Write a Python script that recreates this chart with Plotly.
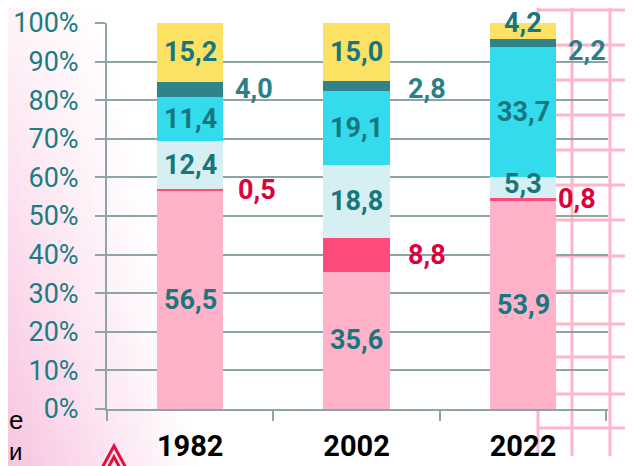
import plotly.graph_objects as go

years = ["1982", "2002", "2022"]
series_names = ["s1", "s2", "s3", "s4", "s5", "s6"]
s1 = [56.5, 35.6, 53.9]
s2 = [0.5, 8.8, 0.8]
s3 = [12.4, 18.8, 5.3]
s4 = [11.4, 19.1, 33.7]
s5 = [4.0, 2.8, 2.2]
s6 = [15.2, 15.0, 4.2]
series = [s1, s2, s3, s4, s5, s6]
colors = ["#FFB2C8", "#FF4A7C", "#D6EFF3", "#33DBEC", "#2E848A", "#FCE165"]
y_ticks = [0, 10, 20, 30, 40, 50, 60, 70, 80, 90, 100]
y_ticktext = [f"{v}%" for v in y_ticks]

# page body has an 8px margin: figure is offset by OFF in the screenshot
OFF = 8
W, H = 633 - OFF, 466 - OFF
L, R, T, B = 107 - OFF, 608 - OFF, 23 - OFF, 409 - OFF

def px(x):  # screen x -> paper
    return (x - OFF - L) / (R - L)

def py(y):  # screen y -> paper
    return (B - (y - OFF)) / (B - T)

TEAL = "#17777D"
TEAL2 = "#2A8088"
RED = "#DC003C"
LABEL_FONT = "Roboto, Arial"

fig = go.Figure()
for name, vals, col in zip(series_names, series, colors):
    fig.add_trace(go.Bar(x=years, y=vals, name=name, marker=dict(color=col, line=dict(width=0)),
                         width=0.4, showlegend=False, hoverinfo="skip"))

annotations = []
inside = {0, 2, 3, 5}
for i in range(len(years)):
    base = 0.0
    for k, vals in enumerate(series):
        v = vals[i]
        mid = base + v / 2
        base += v
        txt = f"{v:.1f}".replace(".", ",")
        if k in inside:
            yshift = 0
            if k == 5 and v < 6:
                yshift = 8
            if k == 2 and v < 6:
                yshift = 4
            annotations.append(dict(x=i, y=mid, xref="x", yref="y", text=f"<b>{txt}</b>",
                                    showarrow=False, font=dict(family=LABEL_FONT, size=27, color=TEAL),
                                    yshift=yshift))
        else:
            col = RED if k == 1 else TEAL2
            xs = 66
            ys = 0
            if k == 5 or k == 4:
                xs = 64 if i != 1 else 70
            if k == 1:
                xs = 67 if i == 0 else (70 if i == 1 else 54)
            if k == 4 and i == 2:
                ys = -8
            if k == 4 and i == 1:
                ys = -3
            annotations.append(dict(x=i, y=mid, xref="x", yref="y", text=f"<b>{txt}</b>",
                                    showarrow=False, font=dict(family=LABEL_FONT, size=27, color=col),
                                    xshift=xs, yshift=ys))

annotations.append(dict(x=px(OFF - 1), y=py(420), xref="paper", yref="paper", text="е", showarrow=False,
                        xanchor="left", yanchor="middle", font=dict(family="Arial", size=26, color="black")))
annotations.append(dict(x=px(OFF - 1), y=py(451), xref="paper", yref="paper", text="и", showarrow=False,
                        xanchor="left", yanchor="middle", font=dict(family="Arial", size=24, color="black")))

shapes = []
step_x, step_y = 6, 16
for yy in range(OFF, 466, step_y):
    t = yy / 466
    base_a = 0.12 + 0.48 * t
    xw = 110 + 90 * t
    for xx in range(OFF, int(xw), step_x):
        a = base_a * (1 - (xx + step_x / 2) / xw)
        if a <= 0.01:
            continue
        shapes.append(dict(type="rect", xref="paper", yref="paper", x0=px(xx), x1=px(xx + step_x),
                           y0=py(yy + step_y), y1=py(yy), fillcolor="rgb(243,150,200)", opacity=a,
                           line=dict(width=0), layer="below"))
PINK = "#FFB6C9"
for vx in [538, 572, 610]:
    shapes.append(dict(type="line", xref="paper", yref="paper", x0=px(vx), x1=px(vx), y0=py(OFF), y1=py(456),
                       line=dict(color=PINK, width=3), layer="below"))
for hy in [10, 45, 80, 115, 150, 185, 220, 256, 291, 324, 357, 394, 428]:
    shapes.append(dict(type="line", xref="paper", yref="paper", x0=px(538), x1=px(640), y0=py(hy), y1=py(hy),
                       line=dict(color=PINK, width=3), layer="below"))
shapes.append(dict(type="path", xref="paper", yref="paper",
                   path=f"M {px(102)},{py(468)} L {px(114)},{py(446)} L {px(126)},{py(468)}",
                   line=dict(color="#E0103C", width=3)))
shapes.append(dict(type="path", xref="paper", yref="paper",
                   path=f"M {px(108)},{py(468)} L {px(114)},{py(457)} L {px(120)},{py(468)}",
                   line=dict(color="#E0103C", width=3)))

GRID = "#8EA4A7"
fig.update_layout(
    width=W, height=H,
    margin=dict(l=L, r=W - R, t=T, b=H - B, autoexpand=False),
    barmode="stack",
    bargap=0.6,
    paper_bgcolor="white",
    plot_bgcolor="rgba(0,0,0,0)",
    annotations=annotations,
    shapes=shapes,
    showlegend=False,
)
fig.update_xaxes(
    type="category", tickson="boundaries", ticks="outside", ticklen=10, tickwidth=2, tickcolor=GRID,
    showline=True, linecolor=GRID, linewidth=2, showgrid=False, automargin=False,
    tickfont=dict(family=LABEL_FONT, size=29, color="black"), tickprefix="<b>", ticksuffix="</b>",
    ticklabelstandoff=10, ticklabeloverflow="allow",
)
fig.update_yaxes(
    range=[0, 100], tickvals=y_ticks, ticktext=y_ticktext, ticks="outside", ticklen=10, tickwidth=2,
    tickcolor=GRID, automargin=False, ticklabeloverflow="allow",
    showgrid=True, gridcolor=GRID, gridwidth=2, showline=True, linecolor=GRID, linewidth=2,
    tickfont=dict(family="Roboto", size=27, color="#1B7C82"), ticklabelstandoff=11, zeroline=False,
)
fig.write_html("out.html")
